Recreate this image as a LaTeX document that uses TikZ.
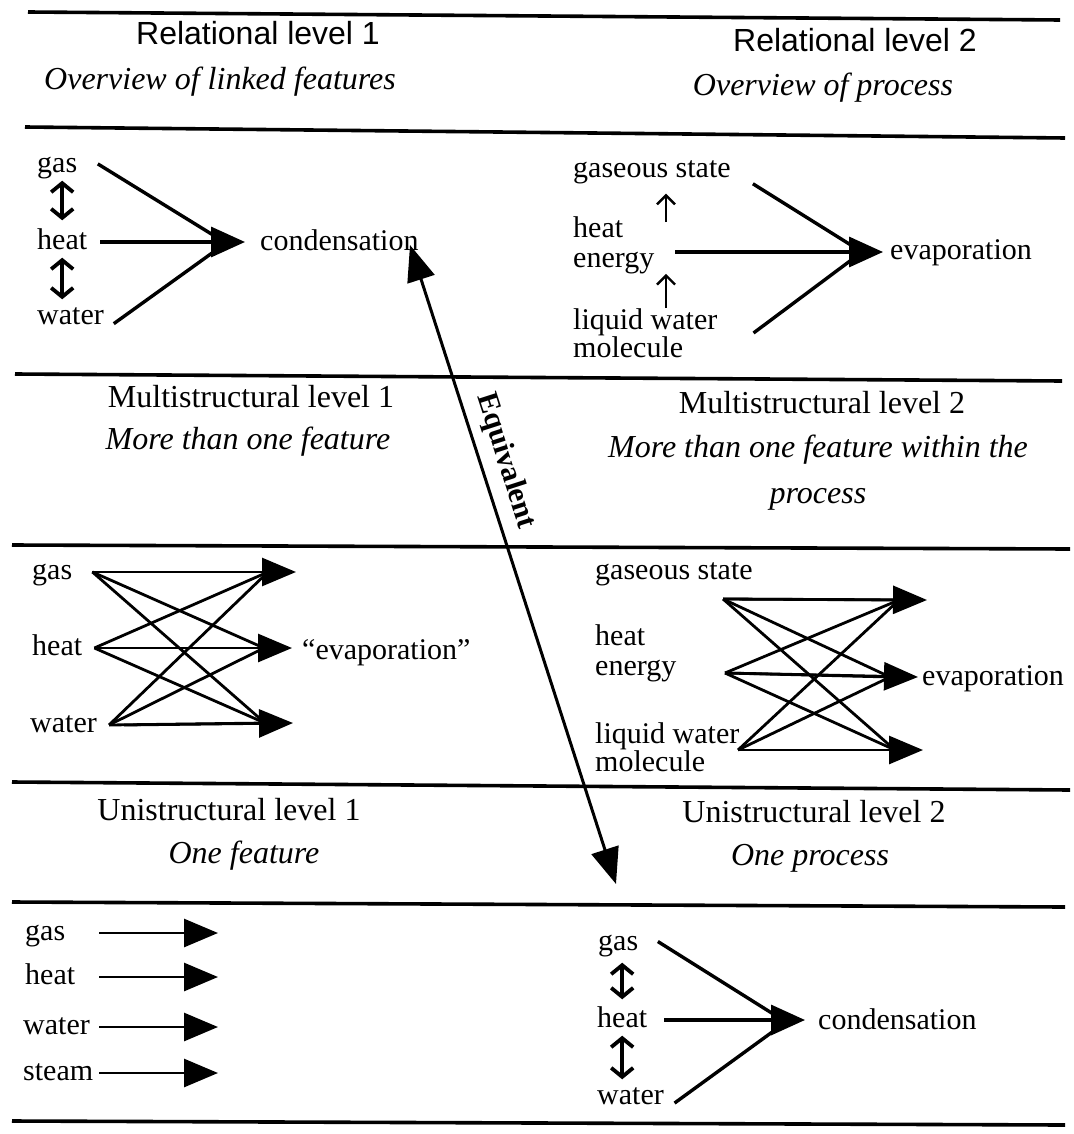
\documentclass[tikz,border=0pt]{standalone}
\usepackage{fontspec}
\setmainfont{Liberation Serif}
\newfontfamily\headsans{Liberation Sans}
\usetikzlibrary{arrows.meta, calc}

\begin{document}
\begin{tikzpicture}[x=1pt, y=-1pt,
  word/.style={inner sep=0pt, anchor=west, font=\fontsize{30}{30}\selectfont, text height=21pt, text depth=6pt},
  words/.style={inner sep=0pt, anchor=west, align=left, font=\fontsize{30}{#1}\selectfont},
  grade/.style={inner sep=0pt, font=\fontsize{32}{36}\selectfont},
  gradesans/.style={inner sep=0pt, font=\headsans\fontsize{32}{36}\selectfont},
  aim/.style={inner sep=0pt, align=center, font=\itshape\fontsize{32}{46}\selectfont},
  divider/.style={line width=3.6pt},
  feed/.style={line width=3.4pt},
  feedarrow/.style={feed, -{Triangle[length=34pt, width=30pt]}},
  web/.style={line width=2.8pt},
  webarrow/.style={web, -{Triangle[length=34pt, width=28pt]}},
  linked/.style={line width=3.8pt, {Straight Barb[length=9pt, width=22pt]}-{Straight Barb[length=9pt, width=22pt]}},
  stem/.style={line width=2.4pt, -{Straight Barb[length=9pt, width=18pt]}},
  equiv/.style={line width=3pt, {Triangle[length=36pt, width=28pt]}-{Triangle[length=36pt, width=28pt]}}]

\useasboundingbox (0,0) rectangle (1073,1134);

% Rules between the levels
\draw[divider] (28,12) -- (1060,20);
\draw[divider] (25,127) -- (1065,138);
\draw[divider] (15,374) -- (1062,381);
\draw[divider] (12,545) -- (1070,549);
\draw[divider] (12,782) -- (1070,790);
\draw[divider] (12,902) -- (1065,907);
\draw[divider] (12,1121) -- (1065,1125);

% Headings
\node[gradesans] (relOne) at (258,33) {Relational level 1};
\node[aim] (relOneAim) at (220,82) {Overview of linked features};
\node[gradesans] (relTwo) at (855,40) {Relational level 2};
\node[aim] (relTwoAim) at (823,88) {Overview of process};
\node[grade] (multiOne) at (251,397) {Multistructural level 1};
\node[aim] (multiOneAim) at (248,442) {More than one feature};
\node[grade] (multiTwo) at (822,403) {Multistructural level 2};
\node[aim] (multiTwoAim) at (818,473) {More than one feature within the\\process};
\node[grade] (uniOne) at (229,810) {Unistructural level 1};
\node[aim] (uniOneAim) at (244,856) {One feature};
\node[grade] (uniTwo) at (814,812) {Unistructural level 2};
\node[aim] (uniTwoAim) at (810,858) {One process};

% Relational level 1
\node[word] (gasA) at (37,165) {gas};
\node[word] (heatA) at (37,242) {heat};
\node[word] (waterA) at (37,317) {water};
\node[word] (condA) at (260,243) {condensation};
\coordinate (meetA) at ([xshift=-34pt]condA.west);
\draw[linked, shorten <=2pt, shorten >=8pt] (heatA.north |- gasA.south) -- (heatA.north);
\draw[linked, shorten <=2pt, shorten >=4pt] (heatA.south) -- (heatA.south |- waterA.north);
\draw[feed, shorten <=24pt] (gasA.north east) -- (meetA);
\draw[feed, shorten <=12pt] (waterA.south east) -- (meetA);
\draw[feedarrow, shorten <=13pt, shorten >=15pt] (heatA.east) -- (heatA.east -| condA.west);

% Relational level 2
\node[word] (gasC) at (573,170) {gaseous state};
\node[words=30] (heatC) at (573,245) {heat\\energy};
\node[words=26] (liqC) at (573,333) {liquid water\\molecule};
\node[word] (evapC) at (890,252) {evaporation};
\coordinate (stemC) at (666,0);
\coordinate (meetC) at ([xshift=-28pt]evapC.west);
\draw[stem] (heatC.north -| stemC) ++(0,6) -- ([yshift=-10pt]gasC.south -| stemC);
\draw[stem] (liqC.north -| stemC) -- (heatC.south -| stemC);
\draw[feed, shorten <=26pt] (gasC.east) -- (meetC);
\draw[feed] ([xshift=36pt]liqC.east) -- (meetC);
\draw[feedarrow, shorten >=7pt] ([xshift=21pt]heatC.east |- evapC.west) -- (evapC.west);

% Multistructural level 1
\node[word] (gasB) at (32,572) {gas};
\node[word] (heatB) at (32,648) {heat};
\node[word] (waterB) at (30,725) {water};
\node[word] (evapB) at (302,652) {“evaporation”};
\coordinate (tipB1) at (296,572);
\coordinate (tipB2) at (292,648);
\coordinate (tipB3) at (293,723);
\foreach \src/\gap in {gasB/20, heatB/12, waterB/12}
  \foreach \k in {1,2,3}
    \draw[web] ([xshift=\gap pt]\src.east) -- ([xshift=-28pt]tipB\k);
\draw[webarrow] ([xshift=20pt]gasB.east) -- (tipB1);
\draw[webarrow] ([xshift=12pt]heatB.east) -- (tipB2);
\draw[webarrow] ([xshift=27pt]waterB.east) -- (tipB3);

% Multistructural level 2
\node[word] (gasE) at (595,572) {gaseous state};
\node[words=30] (heatE) at (595,653) {heat\\energy};
\node[words=26] (liqE) at (595,747) {liquid water\\molecule};
\node[word] (evapE) at (922,678) {evaporation};
\coordinate (srcE1) at (723,599);
\coordinate (srcE2) at (725,673);
\coordinate (srcE3) at (738,750);
\coordinate (tipE1) at (927,600);
\coordinate (tipE2) at (918,677);
\coordinate (tipE3) at (923,750);
\foreach \i in {1,2,3}
  \foreach \k in {1,2,3}
    \draw[web] (srcE\i) -- ([xshift=-28pt]tipE\k);
\foreach \i in {1,2,3}
  \draw[webarrow] (srcE\i) -- (tipE\i);

% Unistructural level 1
\node[word] (gasD) at (25,933) {gas};
\node[word] (heatD) at (25,977) {heat};
\node[word] (waterD) at (23,1027) {water};
\node[word] (steamD) at (23,1073) {steam};
\coordinate (endD) at (218,0);
\foreach \w in {gasD, heatD, waterD, steamD}
  \draw[webarrow] ([xshift=6pt]steamD.east |- \w.east) -- (endD |- \w.east);

% Unistructural level 2
\node[word] (gasF) at (598,943) {gas};
\node[word] (heatF) at (597,1020) {heat};
\node[word] (waterF) at (597,1097) {water};
\node[word] (condF) at (818,1022) {condensation};
\coordinate (meetF) at ([xshift=-32pt]condF.west);
\draw[linked, shorten <=6pt, shorten >=7pt] (heatF.north |- gasF.south) -- (heatF.north);
\draw[linked, shorten <=2pt, shorten >=4pt] (heatF.south) -- (heatF.south |- waterF.north);
\draw[feed, shorten <=23pt] (gasF.north east) -- (meetF);
\draw[feed, shorten <=13pt] (waterF.south east) -- (meetF);
\draw[feedarrow, shorten <=17pt, shorten >=13pt] (heatF.east) -- (heatF.east -| condF.west);

% Equivalent link
\coordinate (eqTop) at (410,245);
\coordinate (eqBot) at (616,884);
\draw[equiv] (eqTop) -- node[pos=0.35, sloped, above=6pt, font=\bfseries\fontsize{30}{30}\selectfont] (eqLabel) {Equivalent} (eqBot);
\end{tikzpicture}
\end{document}
